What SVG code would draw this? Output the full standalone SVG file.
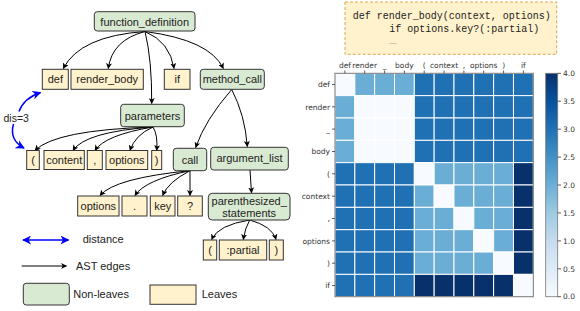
<svg xmlns="http://www.w3.org/2000/svg" width="580" height="311" viewBox="0 0 580 311">
<defs>
<marker id="ah" viewBox="0 0 10 10" refX="9" refY="5" markerWidth="6" markerHeight="6" markerUnits="userSpaceOnUse" orient="auto"><path d="M0,0 L10,5 L0,10 L2.5,5 z" fill="#000"/></marker>
<marker id="bh" viewBox="0 0 10 10" refX="9" refY="5" markerWidth="9" markerHeight="9" markerUnits="userSpaceOnUse" orient="auto-start-reverse"><path d="M0,0 L10,5 L0,10 L3,5 z" fill="#0000ff"/></marker>
<linearGradient id="cb" x1="0" y1="1" x2="0" y2="0">
<stop offset="0" stop-color="#f7fbff"/><stop offset="0.125" stop-color="#deebf7"/><stop offset="0.25" stop-color="#c6dbef"/><stop offset="0.375" stop-color="#9ecae1"/><stop offset="0.5" stop-color="#6baed6"/><stop offset="0.625" stop-color="#4292c6"/><stop offset="0.75" stop-color="#2171b5"/><stop offset="0.875" stop-color="#08519c"/><stop offset="1" stop-color="#08306b"/>
</linearGradient>
</defs>
<style>
.nl{fill:#d9ead3;stroke:#333;stroke-width:1}
.lf{fill:#fff2cc;stroke:#333;stroke-width:1}
.t{font-family:"Liberation Sans",Arial,sans-serif;font-size:11px;fill:#222;text-anchor:middle}
.tl{font-family:"Liberation Sans",Arial,sans-serif;font-size:11px;fill:#222}
.e{fill:none;stroke:#000;stroke-width:1;marker-end:url(#ah)}
.b{fill:none;stroke:#0000ff;stroke-width:1.5}
.code{font-family:"Liberation Mono","Courier New",monospace;font-size:10px;fill:#222}
.hl{font-family:"DejaVu Sans",sans-serif;font-size:7.5px;fill:#333}
.c0{fill:#f7fbff}.c2{fill:#6aaed6}.c3{fill:#2070b4}.c4{fill:#08306b}
.cells rect{stroke:#fff;stroke-width:1}
.tk{stroke:#333;stroke-width:0.8}
</style>
<rect width="580" height="311" fill="#fff"/>

<g id="connectors">
<path class="e" d="M145,31.5 Q80,36 63.3,68.5"/>
<path class="e" d="M145,31.5 Q112,40 108.3,68.5"/>
<path class="e" d="M145,31.5 Q152,60 151.7,103.5"/>
<path class="e" d="M145,31.5 Q170,42 174,68.5"/>
<path class="e" d="M145,31.5 Q210,40 223.3,68.5"/>
<path class="e" d="M231.7,89.5 Q205,120 195.7,147.5"/>
<path class="e" d="M231.7,89.5 Q245,115 247.3,146.5"/>
<path class="e" d="M153,127 Q55,130 35,150.5"/>
<path class="e" d="M153,127 Q85,132 73,150.5"/>
<path class="e" d="M153,127 Q105,135 95,150.5"/>
<path class="e" d="M153,127 Q135,135 130,150.5"/>
<path class="e" d="M153,127 Q158,135 156.7,150.5"/>
<path class="e" d="M190,170.7 Q115,178 100,195.5"/>
<path class="e" d="M190,170.7 Q145,180 135,195.5"/>
<path class="e" d="M190,170.7 Q168,182 162.7,195.5"/>
<path class="e" d="M190,170.7 L190,195.5"/>
<path class="e" d="M250,170 L251.5,192.8"/>
<path class="e" d="M249.7,220 Q218,225 211.7,239.5"/>
<path class="e" d="M249.7,220 Q245,228 243.3,239.5"/>
<path class="e" d="M249.7,220 Q272,226 276,239.5"/>
<path class="b" d="M19,111.5 Q24,98 40.5,92.5" marker-end="url(#bh)"/>
<path class="b" d="M13.5,124 Q9,140 24,148" marker-end="url(#bh)"/>
</g>

<g id="n-function_definition"><rect class="nl" x="94.3" y="11.7" width="100.7" height="19.3" rx="3"/><text class="t" x="144.7" y="25.5">function_definition</text></g>
<g id="n-def"><rect class="lf" x="42.3" y="69.3" width="26" height="20"/><text class="t" x="55.3" y="83.3">def</text></g>
<g id="n-render_body"><rect class="lf" x="71" y="69.3" width="72.3" height="20"/><text class="t" x="107.2" y="83.3">render_body</text></g>
<g id="n-if"><rect class="lf" x="164.3" y="69.3" width="25.7" height="20"/><text class="t" x="177.2" y="83.3">if</text></g>
<g id="n-method_call"><rect class="nl" x="200.3" y="69.3" width="64" height="20" rx="3"/><text class="t" x="232.3" y="83.3">method_call</text></g>
<g id="n-parameters"><rect class="nl" x="120.7" y="104.3" width="63.6" height="22.4" rx="3"/><text class="t" x="152.5" y="119.5">parameters</text></g>
<g id="n-lparen1"><rect class="lf" x="26.7" y="150.5" width="12.6" height="19"/><text class="t" x="33" y="164">(</text></g>
<g id="n-content"><rect class="lf" x="44" y="150.5" width="40.3" height="19"/><text class="t" x="64.2" y="164">content</text></g>
<g id="n-comma"><rect class="lf" x="87.3" y="150.5" width="15" height="19"/><text class="t" x="94.8" y="164">,</text></g>
<g id="n-options1"><rect class="lf" x="106" y="150.5" width="41.7" height="19"/><text class="t" x="126.8" y="164">options</text></g>
<g id="n-rparen1"><rect class="lf" x="151.7" y="150.5" width="10" height="19"/><text class="t" x="156.7" y="164">)</text></g>
<g id="n-call"><rect class="nl" x="173.3" y="148.3" width="33.4" height="22.4" rx="3"/><text class="t" x="190" y="163.5">call</text></g>
<g id="n-argument_list"><rect class="nl" x="210.7" y="147.3" width="77.6" height="22.7" rx="3"/><text class="t" x="249.5" y="162">argument_list</text></g>
<g id="n-options2"><rect class="lf" x="77.7" y="196" width="41.3" height="20"/><text class="t" x="98.3" y="210">options</text></g>
<g id="n-dot"><rect class="lf" x="122" y="196" width="25" height="20"/><text class="t" x="134.5" y="210">.</text></g>
<g id="n-key"><rect class="lf" x="150.3" y="196" width="24.7" height="20"/><text class="t" x="162.7" y="210">key</text></g>
<g id="n-question"><rect class="lf" x="177.7" y="196" width="24.6" height="20"/><text class="t" x="190" y="210">?</text></g>
<g id="n-parenthesized_statements"><rect class="nl" x="208.3" y="193.3" width="81.7" height="26.7" rx="4"/><text class="t" x="249.2" y="204.5">parenthesized_</text><text class="t" x="249.2" y="217">statements</text></g>
<g id="n-lparen2"><rect class="lf" x="203.3" y="240" width="13.4" height="20"/><text class="t" x="210" y="254">(</text></g>
<g id="n-partial"><rect class="lf" x="219.3" y="240" width="47.4" height="20"/><text class="t" x="243" y="254">:partial</text></g>
<g id="n-rparen2"><rect class="lf" x="269.3" y="240" width="14" height="20"/><text class="t" x="276.3" y="254">)</text></g>

<g id="dis-label"><text class="tl" x="3.5" y="122" style="font-size:10.5px">dis=3</text></g>

<g id="legend">
<path class="b" d="M23,240 L68.5,240" marker-start="url(#bh)" marker-end="url(#bh)"/>
<text class="tl" x="82.7" y="242.5">distance</text>
<path class="e" d="M21.7,266 L66.5,266"/>
<text class="tl" x="76" y="270">AST edges</text>
<rect class="nl" x="23.3" y="283.3" width="46" height="21.7" rx="3"/>
<text class="tl" x="73.3" y="298">Non-leaves</text>
<rect class="lf" x="150" y="285" width="46" height="19.3"/>
<text class="tl" x="201.7" y="298">Leaves</text>
</g>

<g id="code">
<rect x="345" y="2" width="211.7" height="52.3" fill="#fff2cc" stroke="#d6a84f" stroke-width="1" stroke-dasharray="3,2"/>
<text class="code" x="352.7" y="18.5">def render_body(context, options)</text>
<text class="code" x="389.3" y="32">if options.key?(:partial)</text>
<text class="code" x="389.3" y="44" style="font-size:6px">……</text>
</g>

<g id="heatmap">
<g class="cells">
<rect class="c0" x="335" y="73.3" width="19.83" height="22.34"/><rect class="c2" x="354.83" y="73.3" width="19.83" height="22.34"/><rect class="c2" x="374.66" y="73.3" width="19.83" height="22.34"/><rect class="c2" x="394.49" y="73.3" width="19.83" height="22.34"/><rect class="c3" x="414.32" y="73.3" width="19.83" height="22.34"/><rect class="c3" x="434.15" y="73.3" width="19.83" height="22.34"/><rect class="c3" x="453.98" y="73.3" width="19.83" height="22.34"/><rect class="c3" x="473.81" y="73.3" width="19.83" height="22.34"/><rect class="c3" x="493.64" y="73.3" width="19.83" height="22.34"/><rect class="c3" x="513.47" y="73.3" width="19.83" height="22.34"/>
<rect class="c2" x="335" y="95.64" width="19.83" height="22.34"/><rect class="c0" x="354.83" y="95.64" width="19.83" height="22.34"/><rect class="c0" x="374.66" y="95.64" width="19.83" height="22.34"/><rect class="c0" x="394.49" y="95.64" width="19.83" height="22.34"/><rect class="c3" x="414.32" y="95.64" width="19.83" height="22.34"/><rect class="c3" x="434.15" y="95.64" width="19.83" height="22.34"/><rect class="c3" x="453.98" y="95.64" width="19.83" height="22.34"/><rect class="c3" x="473.81" y="95.64" width="19.83" height="22.34"/><rect class="c3" x="493.64" y="95.64" width="19.83" height="22.34"/><rect class="c3" x="513.47" y="95.64" width="19.83" height="22.34"/>
<rect class="c2" x="335" y="117.98" width="19.83" height="22.34"/><rect class="c0" x="354.83" y="117.98" width="19.83" height="22.34"/><rect class="c0" x="374.66" y="117.98" width="19.83" height="22.34"/><rect class="c0" x="394.49" y="117.98" width="19.83" height="22.34"/><rect class="c3" x="414.32" y="117.98" width="19.83" height="22.34"/><rect class="c3" x="434.15" y="117.98" width="19.83" height="22.34"/><rect class="c3" x="453.98" y="117.98" width="19.83" height="22.34"/><rect class="c3" x="473.81" y="117.98" width="19.83" height="22.34"/><rect class="c3" x="493.64" y="117.98" width="19.83" height="22.34"/><rect class="c3" x="513.47" y="117.98" width="19.83" height="22.34"/>
<rect class="c2" x="335" y="140.32" width="19.83" height="22.34"/><rect class="c0" x="354.83" y="140.32" width="19.83" height="22.34"/><rect class="c0" x="374.66" y="140.32" width="19.83" height="22.34"/><rect class="c0" x="394.49" y="140.32" width="19.83" height="22.34"/><rect class="c3" x="414.32" y="140.32" width="19.83" height="22.34"/><rect class="c3" x="434.15" y="140.32" width="19.83" height="22.34"/><rect class="c3" x="453.98" y="140.32" width="19.83" height="22.34"/><rect class="c3" x="473.81" y="140.32" width="19.83" height="22.34"/><rect class="c3" x="493.64" y="140.32" width="19.83" height="22.34"/><rect class="c3" x="513.47" y="140.32" width="19.83" height="22.34"/>
<rect class="c3" x="335" y="162.66" width="19.83" height="22.34"/><rect class="c3" x="354.83" y="162.66" width="19.83" height="22.34"/><rect class="c3" x="374.66" y="162.66" width="19.83" height="22.34"/><rect class="c3" x="394.49" y="162.66" width="19.83" height="22.34"/><rect class="c0" x="414.32" y="162.66" width="19.83" height="22.34"/><rect class="c2" x="434.15" y="162.66" width="19.83" height="22.34"/><rect class="c2" x="453.98" y="162.66" width="19.83" height="22.34"/><rect class="c2" x="473.81" y="162.66" width="19.83" height="22.34"/><rect class="c2" x="493.64" y="162.66" width="19.83" height="22.34"/><rect class="c4" x="513.47" y="162.66" width="19.83" height="22.34"/>
<rect class="c3" x="335" y="185" width="19.83" height="22.34"/><rect class="c3" x="354.83" y="185" width="19.83" height="22.34"/><rect class="c3" x="374.66" y="185" width="19.83" height="22.34"/><rect class="c3" x="394.49" y="185" width="19.83" height="22.34"/><rect class="c2" x="414.32" y="185" width="19.83" height="22.34"/><rect class="c0" x="434.15" y="185" width="19.83" height="22.34"/><rect class="c2" x="453.98" y="185" width="19.83" height="22.34"/><rect class="c2" x="473.81" y="185" width="19.83" height="22.34"/><rect class="c2" x="493.64" y="185" width="19.83" height="22.34"/><rect class="c4" x="513.47" y="185" width="19.83" height="22.34"/>
<rect class="c3" x="335" y="207.34" width="19.83" height="22.34"/><rect class="c3" x="354.83" y="207.34" width="19.83" height="22.34"/><rect class="c3" x="374.66" y="207.34" width="19.83" height="22.34"/><rect class="c3" x="394.49" y="207.34" width="19.83" height="22.34"/><rect class="c2" x="414.32" y="207.34" width="19.83" height="22.34"/><rect class="c2" x="434.15" y="207.34" width="19.83" height="22.34"/><rect class="c0" x="453.98" y="207.34" width="19.83" height="22.34"/><rect class="c2" x="473.81" y="207.34" width="19.83" height="22.34"/><rect class="c2" x="493.64" y="207.34" width="19.83" height="22.34"/><rect class="c4" x="513.47" y="207.34" width="19.83" height="22.34"/>
<rect class="c3" x="335" y="229.68" width="19.83" height="22.34"/><rect class="c3" x="354.83" y="229.68" width="19.83" height="22.34"/><rect class="c3" x="374.66" y="229.68" width="19.83" height="22.34"/><rect class="c3" x="394.49" y="229.68" width="19.83" height="22.34"/><rect class="c2" x="414.32" y="229.68" width="19.83" height="22.34"/><rect class="c2" x="434.15" y="229.68" width="19.83" height="22.34"/><rect class="c2" x="453.98" y="229.68" width="19.83" height="22.34"/><rect class="c0" x="473.81" y="229.68" width="19.83" height="22.34"/><rect class="c2" x="493.64" y="229.68" width="19.83" height="22.34"/><rect class="c4" x="513.47" y="229.68" width="19.83" height="22.34"/>
<rect class="c3" x="335" y="252.02" width="19.83" height="22.34"/><rect class="c3" x="354.83" y="252.02" width="19.83" height="22.34"/><rect class="c3" x="374.66" y="252.02" width="19.83" height="22.34"/><rect class="c3" x="394.49" y="252.02" width="19.83" height="22.34"/><rect class="c2" x="414.32" y="252.02" width="19.83" height="22.34"/><rect class="c2" x="434.15" y="252.02" width="19.83" height="22.34"/><rect class="c2" x="453.98" y="252.02" width="19.83" height="22.34"/><rect class="c2" x="473.81" y="252.02" width="19.83" height="22.34"/><rect class="c0" x="493.64" y="252.02" width="19.83" height="22.34"/><rect class="c4" x="513.47" y="252.02" width="19.83" height="22.34"/>
<rect class="c3" x="335" y="274.36" width="19.83" height="22.34"/><rect class="c3" x="354.83" y="274.36" width="19.83" height="22.34"/><rect class="c3" x="374.66" y="274.36" width="19.83" height="22.34"/><rect class="c3" x="394.49" y="274.36" width="19.83" height="22.34"/><rect class="c4" x="414.32" y="274.36" width="19.83" height="22.34"/><rect class="c4" x="434.15" y="274.36" width="19.83" height="22.34"/><rect class="c4" x="453.98" y="274.36" width="19.83" height="22.34"/><rect class="c4" x="473.81" y="274.36" width="19.83" height="22.34"/><rect class="c4" x="493.64" y="274.36" width="19.83" height="22.34"/><rect class="c0" x="513.47" y="274.36" width="19.83" height="22.34"/>
</g>
<rect x="335" y="73.3" width="198.3" height="223.4" fill="none" stroke="#777" stroke-width="1"/>
<g class="tk">
<path d="M344.9,70.5V73.3M364.7,70.5V73.3M384.6,70.5V73.3M404.4,70.5V73.3M424.2,70.5V73.3M444.1,70.5V73.3M463.9,70.5V73.3M483.7,70.5V73.3M503.6,70.5V73.3M523.4,70.5V73.3"/>
<path d="M332,84.5H335M332,106.8H335M332,129.1H335M332,151.5H335M332,173.8H335M332,196.2H335M332,218.5H335M332,240.9H335M332,263.2H335M332,285.5H335"/>
</g>
<g class="hl" text-anchor="middle">
<text x="344.9" y="67.5">def</text><text x="364.7" y="67.5">render</text><text x="384.6" y="67.5">_</text><text x="404.4" y="67.5">body</text><text x="424.2" y="67.5">(</text><text x="444.1" y="67.5">context</text><text x="463.9" y="67.5">,</text><text x="483.7" y="67.5">options</text><text x="503.6" y="67.5">)</text><text x="523.4" y="67.5">if</text>
</g>
<g class="hl" text-anchor="end">
<text x="330" y="87.2">def</text><text x="330" y="109.5">render</text><text x="330" y="131.8">_</text><text x="330" y="154.2">body</text><text x="330" y="176.5">(</text><text x="330" y="198.9">context</text><text x="330" y="221.2">,</text><text x="330" y="243.6">options</text><text x="330" y="265.9">)</text><text x="330" y="288.2">if</text>
</g>
</g>

<g id="colorbar">
<rect x="545.7" y="73.3" width="12" height="223.4" fill="url(#cb)" stroke="#777" stroke-width="0.8"/>
<path class="tk" d="M557.7,73.3H561M557.7,101.2H561M557.7,129.2H561M557.7,157.1H561M557.7,185H561M557.7,212.9H561M557.7,240.9H561M557.7,268.8H561M557.7,296.7H561"/>
<g class="hl">
<text x="563" y="76">4.0</text><text x="563" y="103.9">3.5</text><text x="563" y="131.9">3.0</text><text x="563" y="159.8">2.5</text><text x="563" y="187.7">2.0</text><text x="563" y="215.6">1.5</text><text x="563" y="243.6">1.0</text><text x="563" y="271.5">0.5</text><text x="563" y="299.4">0.0</text>
</g>
</g>
</svg>
